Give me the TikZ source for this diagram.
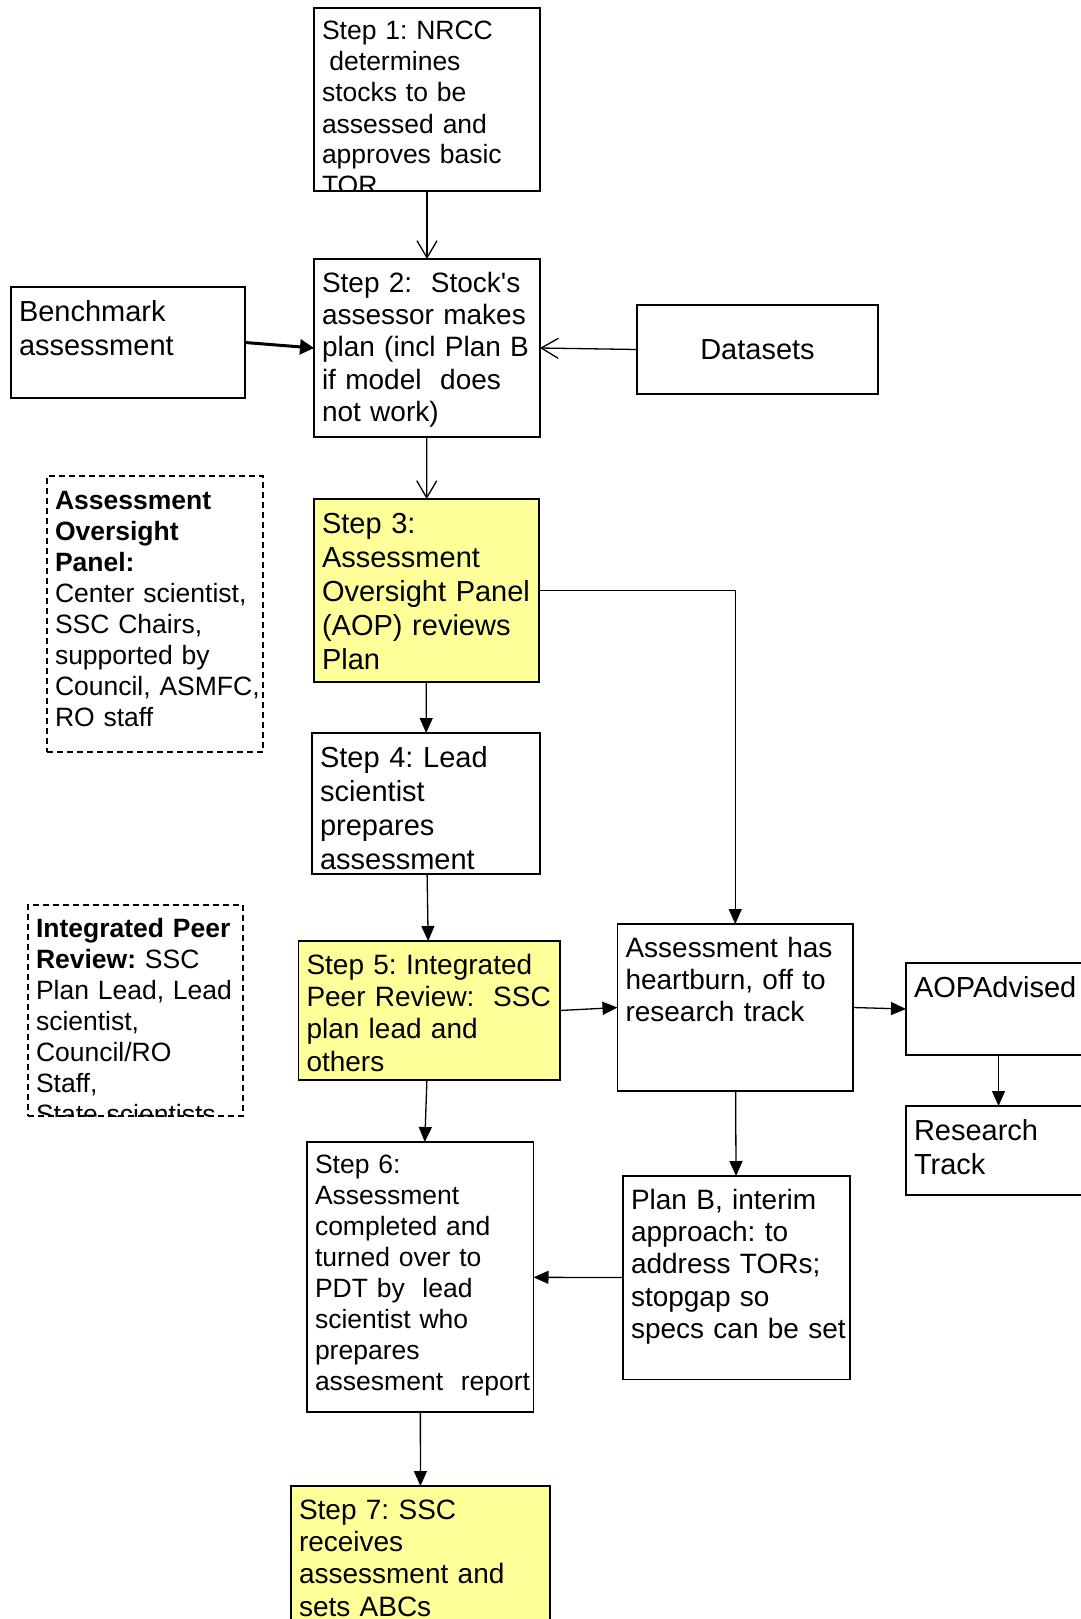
\documentclass[tikz,border=0pt]{standalone}
\usepackage{fontspec}
\setmainfont{Liberation Sans}[Ligatures=TeXOff]
\usetikzlibrary{positioning, arrows.meta}
\definecolor{aopyellow}{RGB}{255,255,153}
\newcommand{\sizeA}{\fontsize{26.5pt}{31pt}\selectfont}
\newcommand{\sizeB}{\fontsize{28pt}{32.4pt}\selectfont}
\newcommand{\sizeC}{\fontsize{29pt}{34pt}\selectfont}
\tikzset{
box/.style 2 args={draw, line width=1.5pt, fill=white, outer sep=0pt, align=left, inner xsep=8pt, inner ysep=0pt, text height=33pt, text width=#1, text depth=#2}, % text starts at the top left corner
cutbox/.style={draw, line width=1.5pt, fill=white, outer sep=0pt, inner sep=0pt}, % box whose text runs past its bottom edge
boxtext/.style={align=left, inner xsep=8pt, inner ysep=0pt, text height=32pt, text width=#1}, % text inside a cutbox
panel/.style={dash pattern=on 6pt off 4pt}, % dashed side panels
arr/.style={line width=1.3pt, -{Triangle[length=15pt, width=13pt]}}, % filled arrow head
openarr/.style={line width=1.3pt, -{Straight Barb[length=17pt, width=20pt]}}, % open arrow head
boldarr/.style={line width=3pt, -{Triangle[length=14pt, width=15pt]}}, % thick arrow
}

\begin{document}
\frenchspacing
\hyphenpenalty=10000
\exhyphenpenalty=10000
\begin{tikzpicture}[x=1pt, y=1pt]
      \useasboundingbox (0,0) rectangle (1081,-1619);
      \node[cutbox, minimum width=226pt, minimum height=183pt, anchor=north west,
        path picture={\node[boxtext=210pt, font=\sizeA, anchor=north west] at (path picture bounding box.north west)
        {Step 1: NRCC\\\hspace*{.28em}determines\\stocks to be\\assessed and\\approves basic\\TOR};}] (1) at (314,-8) {};
      \node[box={210pt}{145pt}, font=\sizeB, below=68pt of 1] (2) {Step 2:~ Stock's\\assessor makes\\plan (incl Plan B\\if model~ does\\not work)};
      \node[box={218pt}{77pt}, text height=34pt, line width=2pt, font=\sizeC, left=69pt of 2, yshift=5.5pt] (benchmark) {Benchmark\\assessment};
      \node[draw, line width=2pt, fill=white, outer sep=0pt, minimum width=241pt, minimum height=89pt, font=\sizeC, right=97pt of 2, yshift=-1.5pt] (datasets) {Datasets};
      \node[box={209pt}{149pt}, text height=34pt, fill=aopyellow, font=\sizeC, below=62pt of 2, xshift=-0.5pt] (3) {Step 3:\\Assessment\\Oversight Panel\\(AOP) reviews\\Plan};
      \node[box={200pt}{243pt}, panel, font=\sizeA, left=51pt of 3, yshift=-23.5pt] (aop) {\textbf{Assessment}\\\textbf{Oversight}\\\textbf{Panel:}\\Center scientist,\\SSC Chairs,\\supported by\\Council,~ASMFC,\\RO staff};
      \node[box={212pt}{107pt}, text height=34pt, font=\sizeC, below=51pt of 3, xshift=-0.5pt] (4) {Step 4: Lead\\scientist\\prepares\\assessment};
      \node[box={245.5pt}{106pt}, fill=aopyellow, font=\sizeB, below=67pt of 4, xshift=3.25pt] (5) {Step 5: Integrated\\Peer Review:~ SSC\\plan lead and\\others};
      \node[cutbox, panel, minimum width=215pt, minimum height=211pt, left=55.5pt of 5,
        path picture={\node[boxtext=199pt, font=\sizeA, anchor=north west] at (path picture bounding box.north west)
        {\textbf{Integrated Peer}\\\textbf{Review:} SSC\\Plan Lead, Lead\\scientist,\\Council/RO\\Staff,\\State scientists};}] (ipr) {};
      \node[box={219.5pt}{134pt}, font=\sizeB, right=57.5pt of 5, yshift=3pt] (heartburn) {Assessment has\\heartburn, off to\\research track};
      \node[box={169pt}{58pt}, text height=34pt, font=\sizeC, right=53pt of heartburn, yshift=-1.5pt] (aopadvised) {AOPAdvised};
      \node[box={169pt}{55pt}, text height=34pt, font=\sizeC, below=51pt of aopadvised] (research) {Research\\Track};
      \node[box={211pt}{170.7pt}, font=\sizeB, below=85pt of heartburn, xshift=1.25pt] (planb) {Plan B, interim\\approach: to\\address TORs;\\stopgap so\\specs~can~be~set};
      \node[box={210.5pt}{239pt}, text height=31pt, font=\sizeA, below=62pt of 5, xshift=-9pt] (6) {Step 6:\\Assessment\\completed and\\turned over to\\PDT by~ lead\\scientist who\\prepares\\assesment~~report};
      \node[box={243pt}{127pt}, fill=aopyellow, font=\sizeB, below=74pt of 6, xshift=0.25pt] (7) {Step 7: SSC\\receives\\assessment and\\sets ABCs};

      \draw[openarr] (1) -- (2);
      \draw[boldarr] (benchmark.east) -- (2.west);
      \draw[openarr] (datasets.west) -- (2.east);
      \draw[openarr] (2) -- (3);
      \draw[arr] (3) -- (4);
      \draw[arr] (3.east) -| (heartburn.north);
      \draw[arr] (4) -- (5);
      \draw[arr] (5.east) -- (heartburn.west);
      \draw[arr] (heartburn.east) -- (aopadvised.west);
      \draw[arr] (aopadvised) -- (research);
      \draw[arr] (heartburn) -- (planb);
      \draw[arr] (5) -- (6);
      \draw[arr] (planb) -- (6);
      \draw[arr] (6) -- (7);
    \end{tikzpicture}
\end{document}
